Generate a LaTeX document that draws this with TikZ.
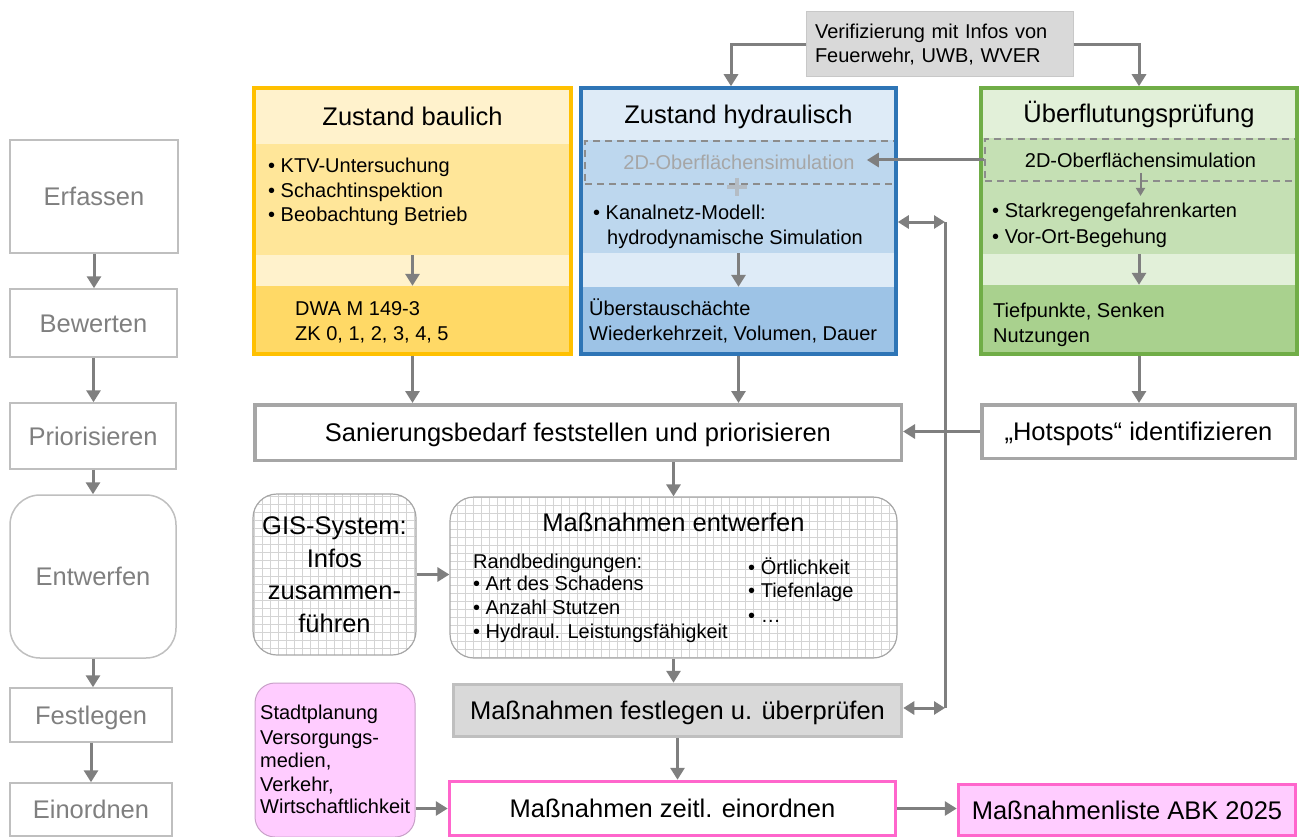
\documentclass[tikz,border=0pt]{standalone}
\usepackage{fontspec}
\setmainfont{Liberation Sans}
\usetikzlibrary{arrows.meta,calc}

\definecolor{arrgray}{HTML}{7F7F7F}
\definecolor{stageline}{HTML}{BFBFBF}
\definecolor{stagetext}{HTML}{7F7F7F}
\definecolor{yBorder}{HTML}{FFC000}
\definecolor{yHead}{HTML}{FFF2CC}
\definecolor{yMid}{HTML}{FFE699}
\definecolor{yLow}{HTML}{FFD966}
\definecolor{bBorder}{HTML}{2E75B6}
\definecolor{bHead}{HTML}{DEEBF7}
\definecolor{bMid}{HTML}{BDD7EE}
\definecolor{bLow}{HTML}{9DC3E6}
\definecolor{gBorder}{HTML}{70AD47}
\definecolor{gHead}{HTML}{E2F0D9}
\definecolor{gMid}{HTML}{C5E0B4}
\definecolor{gLow}{HTML}{A9D18E}
\definecolor{dashgray}{HTML}{8C8C8C}
\definecolor{simgray}{HTML}{A6A6A6}
\definecolor{plusgray}{HTML}{B4BCC4}
\definecolor{verfill}{HTML}{D9D9D9}
\definecolor{verline}{HTML}{C8C8C8}
\definecolor{sanline}{HTML}{A6A6A6}
\definecolor{festfill}{HTML}{D9D9D9}
\definecolor{festline}{HTML}{BFBFBF}
\definecolor{pinkline}{HTML}{FF66CC}
\definecolor{pinkfill}{HTML}{FFCCFF}
\definecolor{stadtline}{HTML}{C8A0C8}
\definecolor{gridline}{HTML}{D4D4D4}
\definecolor{roundline}{HTML}{A6A6A6}

\tikzset{
  big/.style={font=\fontsize{25.5}{32.5}\selectfont},
  bigc/.style={big, text height=18.5pt, text depth=0pt},
  body/.style={font=\fontsize{20}{24}\selectfont},
  line/.style={anchor=base west, inner sep=0pt, body},
  arr/.style={draw=arrgray, line width=3pt, -{Triangle[length=12pt,width=14pt]}},
  biarr/.style={draw=arrgray, line width=3pt,
    {Triangle[length=11pt,width=13pt]}-{Triangle[length=11pt,width=13pt]}},
  smallarr/.style={draw=arrgray, line width=2pt, -{Triangle[length=8pt,width=9pt]}},
  stage/.style={draw=stageline, line width=1.5pt, text=stagetext, bigc, inner sep=0pt},
  sect/.style={draw=none, inner sep=0pt},
  frame/.style={line width=3.5pt, inner sep=0pt},
  plain/.style={draw=sanline, line width=3.5pt, fill=white, bigc, inner sep=0pt},
  gridbox/.style={draw=roundline, line width=1.2pt, fill=white, rounded corners=24pt,
    inner sep=0pt,
    path picture={\draw[gridline, line width=0.7pt, step=8pt]
      (path picture bounding box.south west) grid (path picture bounding box.north east);}},
}

\begin{document}
\begin{tikzpicture}[x=1pt, y=-1pt]
\useasboundingbox (0,0) rectangle (1300,837);

% ---------- process stages (left column) ----------
\node[stage, minimum width=168pt, minimum height=113pt] (erf) at (94,196.5) {Erfassen};
\node[stage, minimum width=167pt, minimum height=68pt] (bew) at (93.5,323) {Bewerten};
\node[stage, minimum width=166pt, minimum height=66pt] (pri) at (93,436) {Priorisieren};
\node[stage, minimum width=166pt, minimum height=163pt, rounded corners=30pt] (entw) at (93,576.5) {Entwerfen};
\node[stage, minimum width=162pt, minimum height=54pt] (fes) at (91,715) {Festlegen};
\node[stage, minimum width=162pt, minimum height=53pt] (eio) at (91,809.5) {Einordnen};

\draw[arr] (erf.south) -- (erf.south |- bew.north);
\draw[arr] (bew.south) -- (bew.south |- pri.north);
\draw[arr] (pri.south) -- (pri.south |- entw.north);
\draw[arr] (entw.south) -- (entw.south |- fes.north);
\draw[arr] (fes.south) -- (fes.south |- eio.north);

% ---------- verification source ----------
\node[fill=verfill, draw=verline, line width=1pt, minimum width=267pt, minimum height=65pt,
      body, align=left, text width=249pt, inner xsep=9pt] (ver) at (939.5,44.5)
      {Verifizierung mit Infos von\\Feuerwehr, UWB, WVER};

% ---------- Zustand baulich ----------
\node[sect, fill=yHead, minimum width=317pt, minimum height=56pt, bigc] (zbHead) at (412.5,116) {Zustand baulich};
\node[sect, fill=yMid, minimum width=317pt, minimum height=111pt] (zbMid) at (412.5,199.5) {};
\node[sect, fill=yHead, minimum width=317pt, minimum height=31pt] (zbBand) at (412.5,270.5) {};
\node[sect, fill=yLow, minimum width=317pt, minimum height=68pt] (zbLow) at (412.5,320) {};
\node[line] (zb1) at (268,172) {• KTV-Untersuchung};
\node[line] (zb2) at (268,197) {• Schachtinspektion};
\node[line] (zb3) at (268,222) {• Beobachtung Betrieb};
\node[line] (zb4) at (295,315) {DWA M 149-3};
\node[line] (zb5) at (295,340) {ZK 0, 1, 2, 3, 4, 5};
\draw[arr] (zbMid.south) -- (zbLow.north);
\node[frame, draw=yBorder, minimum width=317pt, minimum height=266pt] (zb) at (412.5,221) {};

% ---------- Zustand hydraulisch ----------
\node[sect, fill=bHead, minimum width=315pt, minimum height=52pt, bigc] (zhHead) at (738.5,114) {Zustand hydraulisch};
\node[sect, fill=bMid, minimum width=315pt, minimum height=113pt] (zhMid) at (738.5,196.5) {};
\node[sect, fill=bHead, minimum width=315pt, minimum height=34pt] (zhBand) at (738.5,270) {};
\node[sect, fill=bLow, minimum width=315pt, minimum height=67pt] (zhLow) at (738.5,320.5) {};
\node[draw=dashgray, dash pattern=on 7pt off 5pt, line width=1.8pt, minimum width=310pt,
      minimum height=43pt, inner sep=0pt] (zhDash) at (740,162.5) {};
\node[body, text=simgray, inner sep=0pt, inner xsep=12pt] (zhSim) at (739,162.5) {2D-Oberflächensimulation};
\coordinate (plusC) at (737,187);
\draw[plusgray, line width=3.5pt] ($(plusC)+(-10,0)$) -- ($(plusC)+(10,0)$)
  ($(plusC)+(0,-9)$) -- ($(plusC)+(0,9)$);
\node[line] (zh1) at (593,219) {• Kanalnetz-Modell:};
\node[line] (zh2) at (607,244) {hydrodynamische Simulation};
\node[line] (zh3) at (589,315) {Überstauschächte};
\node[line] (zh4) at (589,340) {Wiederkehrzeit, Volumen, Dauer};
\draw[arr] (zhMid.south) -- (zhLow.north);
\node[frame, draw=bBorder, minimum width=315pt, minimum height=266pt] (zh) at (738.5,221) {};

% ---------- Überflutungsprüfung ----------
\node[sect, fill=gHead, minimum width=316pt, minimum height=50pt, bigc] (ufHead) at (1139,113) {Überflutungsprüfung};
\node[sect, fill=gMid, minimum width=316pt, minimum height=116pt] (ufMid) at (1139,196) {};
\node[sect, fill=gHead, minimum width=316pt, minimum height=31pt] (ufBand) at (1139,269.5) {};
\node[sect, fill=gLow, minimum width=316pt, minimum height=69pt] (ufLow) at (1139,319.5) {};
\node[draw=dashgray, dash pattern=on 7pt off 5pt, line width=1.8pt, minimum width=311pt,
      minimum height=42pt, inner sep=0pt, body] (ufDash) at (1140.5,160) {2D-Oberflächensimulation};
\draw[smallarr] ($(ufDash.south)+(0,-9)$) -- ($(ufDash.south)+(0,14)$);
\node[line] (uf1) at (992,218) {• Starkregengefahrenkarten};
\node[line] (uf2) at (992,243) {• Vor-Ort-Begehung};
\node[line] (uf3) at (993,317) {Tiefpunkte, Senken};
\node[line] (uf4) at (993,342) {Nutzungen};
\draw[arr] (ufMid.south) -- (ufLow.north);
\node[frame, draw=gBorder, minimum width=316pt, minimum height=266pt] (uf) at (1139,221) {};

% ---------- verification arrows ----------
\coordinate (verL) at (731,0);
\draw[arr] (ver.west) -| (verL |- zh.north);
\draw[arr] (ver.east) -| (uf.north);

% surface simulation feeds the hydraulic model
\draw[arr] (ufDash.west) -- (ufDash.west -| zhSim.east);

% ---------- prioritisation ----------
\node[plain, minimum width=646.5pt, minimum height=55.5pt] (san) at (578,432.5)
  {Sanierungsbedarf feststellen und priorisieren};
\node[plain, minimum width=313.5pt, minimum height=53.5pt] (hot) at (1138.5,431.5)
  {„Hotspots“ identifizieren};

\draw[arr] (zb.south) -- (zb.south |- san.north);
\draw[arr] (zh.south) -- (zh.south |- san.north);
\draw[arr] (uf.south) -- (uf.south |- hot.north);

% ---------- design ----------
\node[gridbox, minimum width=163pt, minimum height=161pt, big, align=center] (gis) at (334.5,574.5)
  {GIS-System:\\Infos\\zusammen-\\führen};
\node[gridbox, minimum width=447pt, minimum height=161pt] (ent) at (673.5,577.5) {};
\node[bigc, inner sep=0pt] (entTitle) at (673.5,522) {Maßnahmen entwerfen};
\node[line] (rb0) at (473,568) {Randbedingungen:};
\node[line] (rb1) at (473,590) {• Art des Schadens};
\node[line] (rb2) at (473,614) {• Anzahl Stutzen};
\node[line] (rb3) at (473,638) {• Hydraul. Leistungsfähigkeit};
\node[line] (rb4) at (748,574) {• Örtlichkeit};
\node[line] (rb5) at (748,597) {• Tiefenlage};
\node[line] (rb6) at (748,622) {• …};

\draw[arr] (ent.north |- san.south) -- (ent.north);
\draw[arr] (gis.east) -- (gis.east -| ent.west);

% ---------- fixing and scheduling ----------
\node[draw=festline, fill=festfill, line width=3.5pt, minimum width=448pt, minimum height=52pt,
      bigc, inner sep=0pt] (fest) at (677.5,710.5) {Maßnahmen festlegen u. überprüfen};
\node[draw=pinkline, fill=white, line width=3.5pt, minimum width=446pt, minimum height=54pt,
      bigc, inner sep=0pt] (ein) at (672.5,808.5) {Maßnahmen zeitl. einordnen};
\node[draw=pinkline, fill=pinkfill, line width=3.5pt, minimum width=337pt, minimum height=51pt,
      bigc, inner sep=0pt] (abk) at (1127,810) {Maßnahmenliste ABK 2025};
\node[draw=stadtline, fill=pinkfill, line width=1pt, rounded corners=20pt, minimum width=160pt,
      minimum height=154pt, inner sep=0pt] (stadt) at (335,760) {};
\node[line] (st1) at (260,719) {Stadtplanung};
\node[line] (st2) at (260,744) {Versorgungs-};
\node[line] (st3) at (260,767) {medien,};
\node[line] (st4) at (260,791) {Verkehr,};
\node[line] (st5) at (260,813) {Wirtschaftlichkeit};

\draw[arr] (ent.south) -- (ent.south |- fest.north);
\draw[arr] (fest.south) -- (fest.south |- ein.north);
\draw[arr] (ein.east) -- (ein.east -| abk.west);
\draw[arr] (ein.west -| stadt.east) -- (ein.west);

% ---------- feedback between hydraulics and final check ----------
\draw[arr] (hot.west) -- (hot.west -| san.east);
\coordinate (busTop) at (945,222);
\coordinate (busBot) at (945,708);
\draw[draw=arrgray, line width=3pt] (busTop) -- (busBot);
\draw[biarr] (zh.east |- busTop) -- (busTop);
\draw[biarr] (fest.east |- busBot) -- (busBot);

\end{tikzpicture}
\end{document}
